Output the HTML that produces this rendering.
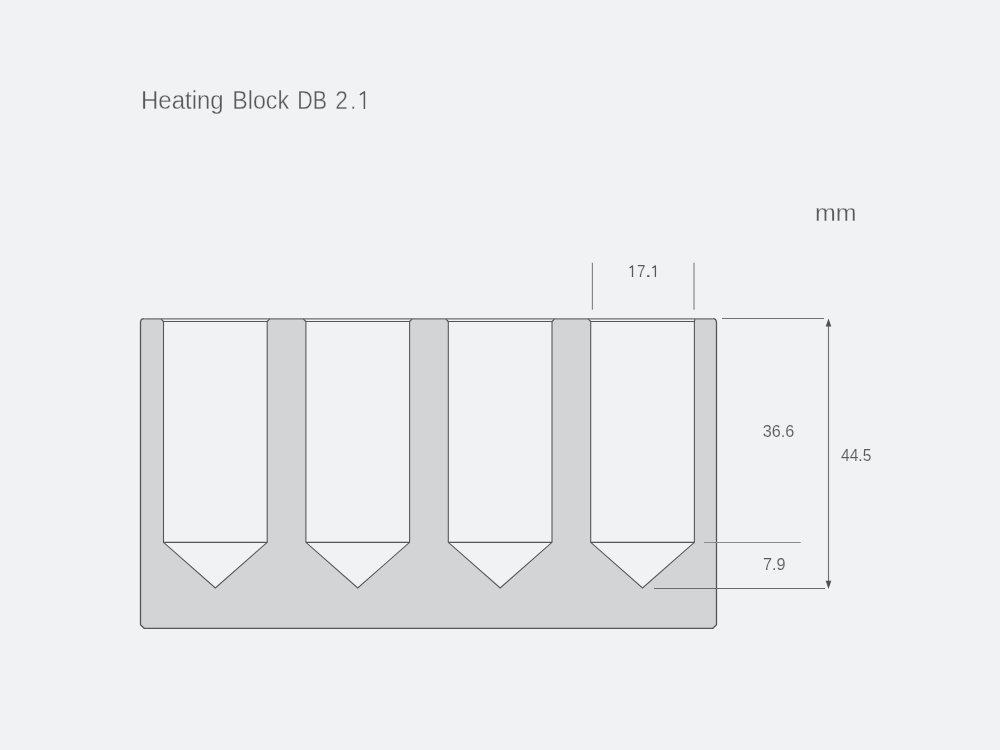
<!DOCTYPE html>
<html><head><meta charset="utf-8"><style>
html,body{margin:0;padding:0;background:#f1f2f4;}
body{width:1000px;height:750px;overflow:hidden;}
svg{display:block;font-family:"Liberation Sans",sans-serif;will-change:transform;}
</style></head><body>
<svg width="1000" height="750" viewBox="0 0 1000 750">
<path d="M140.5,322.5 C140.5,320.09999999999997 141.9,318.7 144.3,318.7 L712.7,318.7 C715.1,318.7 716.5,320.09999999999997 716.5,322.5 L716.5,624.6999999999999 L712.9,628.3 L144.1,628.3 L140.5,624.6999999999999 Z" fill="#d3d4d6" stroke="none"/>
<path d="M144.3,318.7 C141.9,318.7 140.5,320.09999999999997 140.5,322.5 L140.5,624.6999999999999 L144.1,628.3 L712.9,628.3 L716.5,624.6999999999999 L716.5,322.5 C716.5,320.09999999999997 715.1,318.7 712.7,318.7" fill="none" stroke="#555659" stroke-width="1.3" stroke-linejoin="round"/>
<path d="M160.7,318.7 L270.0,318.7 L267.2,321.5 L163.5,321.5 Z" fill="#f1f2f4" stroke="none"/>
<path d="M160.7,318.7 L163.5,321.5 M270.0,318.7 L267.2,321.5" fill="none" stroke="#555659" stroke-width="1.15"/>
<path d="M163.5,321.5 L163.5,542.3 L215.35,588.0 L267.2,542.3 L267.2,321.5 Z" fill="#f1f2f4" stroke="#555659" stroke-width="1.08" stroke-linejoin="miter"/>
<path d="M163.5,542.3 L267.2,542.3" stroke="#555659" stroke-width="1.15"/>
<path d="M303.09999999999997,318.7 L412.4,318.7 L409.59999999999997,321.5 L305.9,321.5 Z" fill="#f1f2f4" stroke="none"/>
<path d="M303.09999999999997,318.7 L305.9,321.5 M412.4,318.7 L409.59999999999997,321.5" fill="none" stroke="#555659" stroke-width="1.15"/>
<path d="M305.9,321.5 L305.9,542.3 L357.75,588.0 L409.59999999999997,542.3 L409.59999999999997,321.5 Z" fill="#f1f2f4" stroke="#555659" stroke-width="1.08" stroke-linejoin="miter"/>
<path d="M305.9,542.3 L409.59999999999997,542.3" stroke="#555659" stroke-width="1.15"/>
<path d="M445.5,318.7 L554.8,318.7 L552.0,321.5 L448.3,321.5 Z" fill="#f1f2f4" stroke="none"/>
<path d="M445.5,318.7 L448.3,321.5 M554.8,318.7 L552.0,321.5" fill="none" stroke="#555659" stroke-width="1.15"/>
<path d="M448.3,321.5 L448.3,542.3 L500.15,588.0 L552.0,542.3 L552.0,321.5 Z" fill="#f1f2f4" stroke="#555659" stroke-width="1.08" stroke-linejoin="miter"/>
<path d="M448.3,542.3 L552.0,542.3" stroke="#555659" stroke-width="1.15"/>
<path d="M587.9000000000001,318.7 L695.0000000000001,318.7 L694.4000000000001,321.5 L590.7,321.5 Z" fill="#f1f2f4" stroke="none"/>
<path d="M587.9000000000001,318.7 L590.7,321.5 M695.0000000000001,318.7 L694.4000000000001,321.5" fill="none" stroke="#555659" stroke-width="1.15"/>
<path d="M590.7,321.5 L590.7,542.3 L642.5500000000001,588.0 L694.4000000000001,542.3 L694.4000000000001,321.5 Z" fill="#f1f2f4" stroke="#555659" stroke-width="1.08" stroke-linejoin="miter"/>
<path d="M590.7,542.3 L694.4000000000001,542.3" stroke="#555659" stroke-width="1.15"/>
<path d="M144.3,318.9 L712.7,318.9" stroke="#6e6f72" stroke-width="1.3" fill="none"/>
<path d="M592.4,262.8 L592.4,309.8 M694,262.8 L694,309.8" stroke="#7e7f82" stroke-width="1.1"/>
<path d="M722,318.4 L824,318.4" stroke="#707174" stroke-width="1.05"/>
<path d="M654,588.4 L825,588.4" stroke="#6a6b6e" stroke-width="1.05"/>
<path d="M704,542.5 L800.7,542.5" stroke="#8a8b8e" stroke-width="1.1"/>
<path d="M828.5,325 L828.5,582" stroke="#707174" stroke-width="1.1"/>
<path d="M828.5,318.4 L831.3,326.5 L825.7,326.5 Z M828.5,588.9 L831.3,580.8 L825.7,580.8 Z" fill="#505154"/>
<text transform="translate(140.97,109) scale(0.9161,1)" x="0" y="0" font-size="26.2" fill="#58595c" stroke="#f1f2f4" stroke-width="0.35">Heating</text>
<text transform="translate(232.23,109) scale(0.8871,1)" x="0" y="0" font-size="26.2" fill="#58595c" stroke="#f1f2f4" stroke-width="0.35">Block</text>
<text transform="translate(297.36,109) scale(0.8182,1)" x="0" y="0" font-size="26.2" fill="#58595c" stroke="#f1f2f4" stroke-width="0.35">DB</text>
<text transform="translate(335.13,109) scale(0.8667,1)" x="0" y="0" font-size="26.2" fill="#58595c" stroke="#f1f2f4" stroke-width="0.35">2</text>
<text transform="translate(350.20,109) scale(0.8000,1)" x="0" y="0" font-size="26.2" fill="#58595c" stroke="#f1f2f4" stroke-width="0.35">.</text>
<text transform="translate(815.02,221) scale(1.0417,1)" x="0" y="0" font-size="24" fill="#58595c" stroke="#f1f2f4" stroke-width="0.3">mm</text>
<text transform="translate(637.10,277) scale(0.9000,1)" x="0" y="0" font-size="17" fill="#58595c" stroke="#f1f2f4" stroke-width="0.12">7</text>
<text transform="translate(644.50,277) scale(1.6000,1)" x="0" y="0" font-size="17" fill="#58595c" stroke="#f1f2f4" stroke-width="0.12">.</text>
<text transform="translate(762.80,437) scale(0.9531,1)" x="0" y="0" font-size="17" fill="#58595c" stroke="#f1f2f4" stroke-width="0.12">36.6</text>
<text transform="translate(841.00,461) scale(0.9167,1)" x="0" y="0" font-size="17" fill="#58595c" stroke="#f1f2f4" stroke-width="0.12">44.5</text>
<text transform="translate(763.05,570) scale(0.9545,1)" x="0" y="0" font-size="17" fill="#58595c" stroke="#f1f2f4" stroke-width="0.12">7.9</text>
<path d="M364.4,108.9 L364.4,91.8 L359.9,94.8" fill="none" stroke="#58595c" stroke-width="1.5" stroke-linejoin="round"/>
<path d="M632.5,276.9 L632.5,265.90000000000003 L629.6,268.0" fill="none" stroke="#58595c" stroke-width="1.3" stroke-linejoin="round"/>
<path d="M655.4,276.9 L655.4,265.90000000000003 L652.4,268.0" fill="none" stroke="#58595c" stroke-width="1.3" stroke-linejoin="round"/>
</svg>
</body></html>
